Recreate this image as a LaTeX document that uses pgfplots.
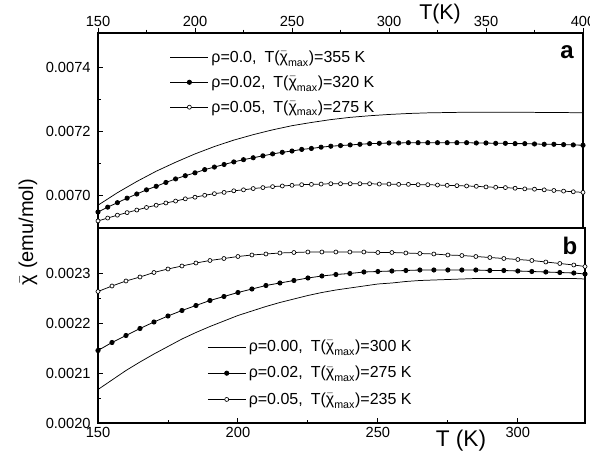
\documentclass[border=0pt]{standalone}
\usepackage{fontspec}
\setmainfont{Liberation Sans}
\usepackage{amsmath}
\usepackage{pgfplots}
\pgfplotsset{compat=1.18}
\newcommand{\chim}{$\bar{\text{χ}}_{\text{max}}$}
\begin{document}
\begin{tikzpicture}
\pgfplotsset{
  panel/.style={
    scale only axis,
    axis line style={line width=0.9pt},
    tick style={line width=0.7pt, black},
    major tick length=4pt, minor tick length=2.5pt,
    scaled y ticks=false,
    y tick label style={/pgf/number format/fixed, /pgf/number format/fixed zerofill, /pgf/number format/precision=4, xshift=-2pt},
    /pgf/number format/assume math mode=true,
    tick label style={font=\fontsize{11}{13}\selectfont},
    legend style={draw=none, fill=none, font=\fontsize{12}{14}\selectfont,
      anchor=north west, inner sep=0pt},
    legend cell align=left,
    legend image code/.code={\draw[mark repeat=2,mark phase=2,##1] plot coordinates {(0cm,0cm) (0.5cm,0cm) (1cm,0cm)};},
    minor x tick num=1, minor y tick num=1,
  },
  solidc/.style={black, line width=0.55pt, no marks},
  fillc/.style={black, line width=0.6pt, mark=*, mark size=1.6pt},
  openc/.style={black, line width=0.55pt, mark=*, mark size=1.5pt, mark options={fill=white, line width=0.5pt}},
}

% panel a
\begin{axis}[panel,
  at={({98*0.75pt},{-33*0.75pt})}, anchor=north west,
  width=363.75pt, height=146.25pt,
  xmin=150, xmax=400, ymin=0.0069, ymax=0.007508,
  xtick={150,200,...,400}, ytick={0.0070,0.0072,0.0074},
  xtick pos=right, xticklabel pos=right, ytick pos=left,
  xtick align=outside,
  x tick label style={yshift=-3pt},
  legend style={at={(rel axis cs:0.148,0.925)}, row sep=4.5pt},
]
\addplot[solidc] table {
150 0.006971
160 0.007010
170 0.007045
180 0.007077
190 0.007105
200 0.007131
210 0.007154
220 0.007174
230 0.007191
240 0.007206
250 0.007219
260 0.007229
270 0.007238
280 0.007245
290 0.007250
300 0.007254
310 0.007257
320 0.007259
330 0.007260
340 0.007261
350 0.007261
360 0.007261
370 0.007261
380 0.007260
390 0.007260
400 0.007259
};
\addlegendentry{ρ=0.0,\enspace T(\chim)=355 K}
\addplot[fillc] table {
150 0.006950
155 0.006965
160 0.006979
165 0.006993
170 0.007006
175 0.007019
180 0.007030
185 0.007042
190 0.007053
195 0.007063
200 0.007072
205 0.007082
210 0.007090
215 0.007098
220 0.007106
225 0.007113
230 0.007119
235 0.007125
240 0.007131
245 0.007136
250 0.007140
255 0.007145
260 0.007148
265 0.007152
270 0.007155
275 0.007157
280 0.007159
285 0.007161
290 0.007163
295 0.007164
300 0.007165
305 0.007165
310 0.007166
315 0.007166
320 0.007166
325 0.007166
330 0.007166
335 0.007166
340 0.007166
345 0.007165
350 0.007165
355 0.007164
360 0.007164
365 0.007163
370 0.007163
375 0.007162
380 0.007161
385 0.007161
390 0.007160
395 0.007159
400 0.007158
};
\addlegendentry{ρ=0.02,\enspace T(\chim)=320 K}
\addplot[openc] table {
150 0.006922
155 0.006931
160 0.006940
165 0.006948
170 0.006956
175 0.006964
180 0.006971
185 0.006978
190 0.006984
195 0.006991
200 0.006996
205 0.007002
210 0.007007
215 0.007011
220 0.007016
225 0.007019
230 0.007023
235 0.007026
240 0.007029
245 0.007031
250 0.007033
255 0.007035
260 0.007036
265 0.007037
270 0.007038
275 0.007038
280 0.007038
285 0.007038
290 0.007038
295 0.007037
300 0.007037
305 0.007036
310 0.007036
315 0.007035
320 0.007035
325 0.007034
330 0.007033
335 0.007032
340 0.007031
345 0.007030
350 0.007028
355 0.007027
360 0.007026
365 0.007024
370 0.007022
375 0.007021
380 0.007019
385 0.007017
390 0.007015
395 0.007013
400 0.007011
};
\addlegendentry{ρ=0.05,\enspace T(\chim)=275 K}
\end{axis}

% panel b
\begin{axis}[panel,
  at={({98*0.75pt},{-228*0.75pt})}, anchor=north west,
  width=365.25pt, height=146.25pt,
  xmin=150, xmax=324, ymin=0.0020, ymax=0.00239,
  xtick={150,200,250,300}, ytick={0.0020,0.0021,0.0022,0.0023},
  xtick pos=left, ytick pos=left,
  legend style={at={(rel axis cs:0.224,0.44)}, row sep=5.5pt},
]
\addplot[solidc] table {
150 0.002067
155 0.002086
160 0.002105
165 0.002122
170 0.002138
175 0.002153
180 0.002168
185 0.002181
190 0.002193
195 0.002204
200 0.002215
205 0.002224
210 0.002233
215 0.002241
220 0.002248
225 0.002255
230 0.002261
235 0.002266
240 0.002270
245 0.002274
250 0.002278
255 0.002280
260 0.002283
265 0.002285
270 0.002286
275 0.002287
280 0.002288
285 0.002289
290 0.002289
300 0.002289
310 0.002289
320 0.002289
324 0.002288
};
\addlegendentry{ρ=0.00,\enspace T(\chim)=300 K}
\addplot[fillc] table {
150 0.002145
155 0.002161
160 0.002175
165 0.002189
170 0.002202
175 0.002214
180 0.002225
185 0.002235
190 0.002245
195 0.002253
200 0.002261
205 0.002268
210 0.002275
215 0.002280
220 0.002285
225 0.002290
230 0.002294
235 0.002297
240 0.002299
245 0.002302
250 0.002303
255 0.002304
260 0.002305
265 0.002306
270 0.002306
275 0.002306
280 0.002306
285 0.002306
290 0.002305
295 0.002305
300 0.002304
305 0.002303
310 0.002302
315 0.002301
320 0.002300
324 0.002298
};
\addlegendentry{ρ=0.02,\enspace T(\chim)=275 K}
\addplot[openc] table {
150 0.002263
155 0.002274
160 0.002284
165 0.002292
170 0.002301
175 0.002308
180 0.002314
185 0.002320
190 0.002325
195 0.002329
200 0.002333
205 0.002336
210 0.002338
215 0.002340
220 0.002341
225 0.002342
230 0.002342
235 0.002342
240 0.002342
245 0.002342
250 0.002341
255 0.002341
260 0.002340
265 0.002339
270 0.002338
275 0.002336
280 0.002335
285 0.002333
290 0.002331
295 0.002329
300 0.002327
305 0.002325
310 0.002322
315 0.002319
320 0.002316
324 0.002313
};
\addlegendentry{ρ=0.05,\enspace T(\chim)=235 K}
\end{axis}

\node[font=\fontsize{16}{18}\selectfont] at ({440*0.75pt},{-14*0.75pt}) {T(K)};
\node[font=\fontsize{17}{19}\selectfont] at ({461*0.75pt},{-441*0.75pt}) {T (K)};
\node[font=\bfseries\fontsize{18}{20}\selectfont] at ({567*0.75pt},{-52*0.75pt}) {a};
\node[font=\bfseries\fontsize{18}{20}\selectfont] at ({570*0.75pt},{-246*0.75pt}) {b};
\node[rotate=90, font=\fontsize{15}{17}\selectfont] at ({28*0.75pt},{-232*0.75pt}) {$\bar{\text{χ}}$ (emu/mol)};

\pgfresetboundingbox
\useasboundingbox (0,0) rectangle (442.5pt,-344.25pt);
\end{tikzpicture}
\end{document}
